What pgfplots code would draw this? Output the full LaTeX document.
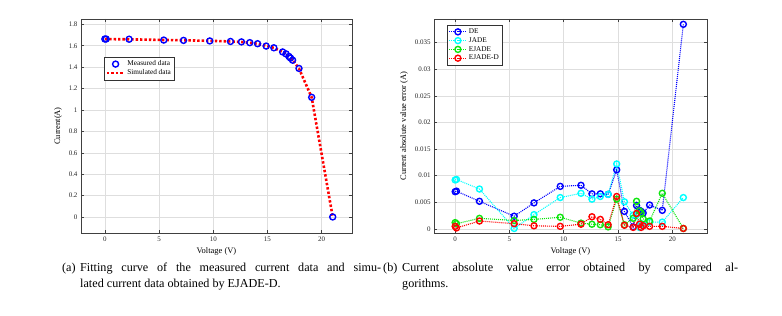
\documentclass[border=0pt]{standalone}
\usepackage{fontspec}
\setmainfont{Liberation Serif}
\usepackage{pgfplots}
\usepackage{pgfplotstable}
\pgfplotsset{compat=1.18}
\pgfplotstableread{
V I
0 1.663
0.118 1.663
2.237 1.661
5.434 1.653
7.26 1.650
9.68 1.645
11.59 1.640
12.6 1.636
13.37 1.629
14.09 1.619
14.88 1.597
15.59 1.581
16.4 1.542
16.71 1.524
16.98 1.500
17.13 1.485
17.32 1.465
17.91 1.388
19.08 1.118
21.02 0.000
}\measured
\pgfplotstableread{
V I
0 1.662
0.118 1.662
2.237 1.660
5.434 1.654
7.26 1.651
9.68 1.646
11.59 1.640
12.6 1.635
13.37 1.628
14.09 1.618
14.88 1.600
15.59 1.580
16.4 1.542
16.71 1.523
16.98 1.502
17.13 1.488
17.32 1.466
17.91 1.387
19.08 1.117
21.02 0.000
}\simulated
\pgfplotstableread{
V DE JADE EJADE EJADED
0 0.0070 0.0092 0.0012 0.0005
0.118 0.0071 0.0093 0.0010 0.0002
2.237 0.0052 0.0075 0.0020 0.0015
5.434 0.0024 0.0001 0.0016 0.0010
7.26 0.0049 0.0027 0.0018 0.0006
9.68 0.0080 0.0059 0.0022 0.0005
11.59 0.0082 0.0067 0.0011 0.0009
12.6 0.0066 0.0056 0.0009 0.0023
13.37 0.0066 0.0061 0.0008 0.0018
14.09 0.0065 0.0065 0.0004 0.0008
14.88 0.0111 0.0122 0.0056 0.0061
15.59 0.0033 0.0051 0.0008 0.0007
16.4 0.0004 0.0026 0.0020 0.0003
16.71 0.0044 0.0027 0.0052 0.0029
16.98 0.0035 0.0003 0.0034 0.0009
17.13 0.0033 0.0010 0.0030 0.0003
17.32 0.0030 0.0008 0.0019 0.0006
17.91 0.0045 0.0013 0.0015 0.0005
19.08 0.0035 0.0013 0.0067 0.0005
21.02 0.0384 0.0059 0.0001 0.0001
}\errors
\definecolor{mblue}{rgb}{0,0,1}
\definecolor{mcyan}{rgb}{0,1,1}
\definecolor{mgreen}{rgb}{0.05,0.9,0.05}
\definecolor{mred}{rgb}{1,0,0}
\pgfplotsset{
  mystyle/.style={
    scale only axis,
    axis line style={black!75, line width=0.6bp},
    tick align=inside,
    major tick length=3bp,
    tick style={black!75, line width=0.5bp},
    grid=major,
    grid style={black!13, line width=0.5bp},
    tick label style={font=\fontsize{7}{8}\selectfont, black!85},
    label style={font=\fontsize{8.5}{10}\selectfont},
    /pgf/number format/assume math mode=true,
    scaled ticks=false,
    legend style={draw=black!80, line width=0.5bp, font=\fontsize{7.3}{8.3}\selectfont, inner sep=1.5bp, row sep=-1.5bp},
    legend cell align=left,
  },
  errplot/.style={#1, dash pattern=on 1bp off 1bp, line width=1.1bp, mark=o, mark size=3bp, mark options={solid, line width=1.4bp}},
}
\begin{document}
\begin{tikzpicture}[x=1bp,y=1bp]
\path (0,0) rectangle (782,315);
\begin{axis}[mystyle,
  at={(81bp,82bp)}, anchor=south west,
  width=271bp, height=214bp,
  xmin=-2.2, xmax=22.8, ymin=-0.15, ymax=1.85,
  xtick={0,5,10,15,20},
  ytick={0,0.2,0.4,0.6,0.8,1,1.2,1.4,1.6,1.8},
  yticklabels={0,0.2,0.4,0.6,0.8,1,1.2,1.4,1.6,1.8},
  xlabel={Voltage (V)}, ylabel={Current(A)},
  legend style={at={(0.085,0.822)}, anchor=north west},
]
\addplot[only marks, mark=o, mark size=3bp, mblue, mark options={line width=1.4bp}] table[x=V,y=I] {\measured};
\addlegendentry{Measured data}
\addplot[mred, line width=2.6bp, dash pattern=on 2.4bp off 2bp] table[x=V,y=I] {\simulated};
\addlegendentry{Simulated data}
\end{axis}
\begin{axis}[mystyle,
  at={(434bp,82bp)}, anchor=south west,
  width=273bp, height=214bp,
  xmin=-1.95, xmax=23.2, ymin=-0.00075, ymax=0.0394,
  xtick={0,5,10,15,20},
  ytick={0,0.005,0.01,0.015,0.02,0.025,0.03,0.035},
  yticklabels={0,0.005,0.01,0.015,0.02,0.025,0.03,0.035},
  xlabel={Voltage (V)}, ylabel={Current absolute value error (A)},
  legend style={at={(0.048,0.972)}, anchor=north west},
]
\addplot[errplot=mblue] table[x=V,y=DE] {\errors};
\addlegendentry{DE}
\addplot[errplot=mcyan] table[x=V,y=JADE] {\errors};
\addlegendentry{JADE}
\addplot[errplot=mgreen] table[x=V,y=EJADE] {\errors};
\addlegendentry{EJADE}
\addplot[errplot=mred] table[x=V,y=EJADED] {\errors};
\addlegendentry{EJADE-D}
\end{axis}
\node[anchor=north west, inner sep=0pt, font=\fontsize{12.2}{15.5}\selectfont] at (62,52) {\makebox[18bp][l]{(a)}\parbox[t]{301bp}{Fitting curve of the measured current data and simu-\linebreak lated current data obtained by EJADE-D.}};
\node[anchor=north west, inner sep=0pt, font=\fontsize{12.2}{15.5}\selectfont] at (383,52) {\makebox[19bp][l]{(b)}\parbox[t]{336bp}{Current absolute value error obtained by compared al-\linebreak gorithms.}};
\end{tikzpicture}
\end{document}
